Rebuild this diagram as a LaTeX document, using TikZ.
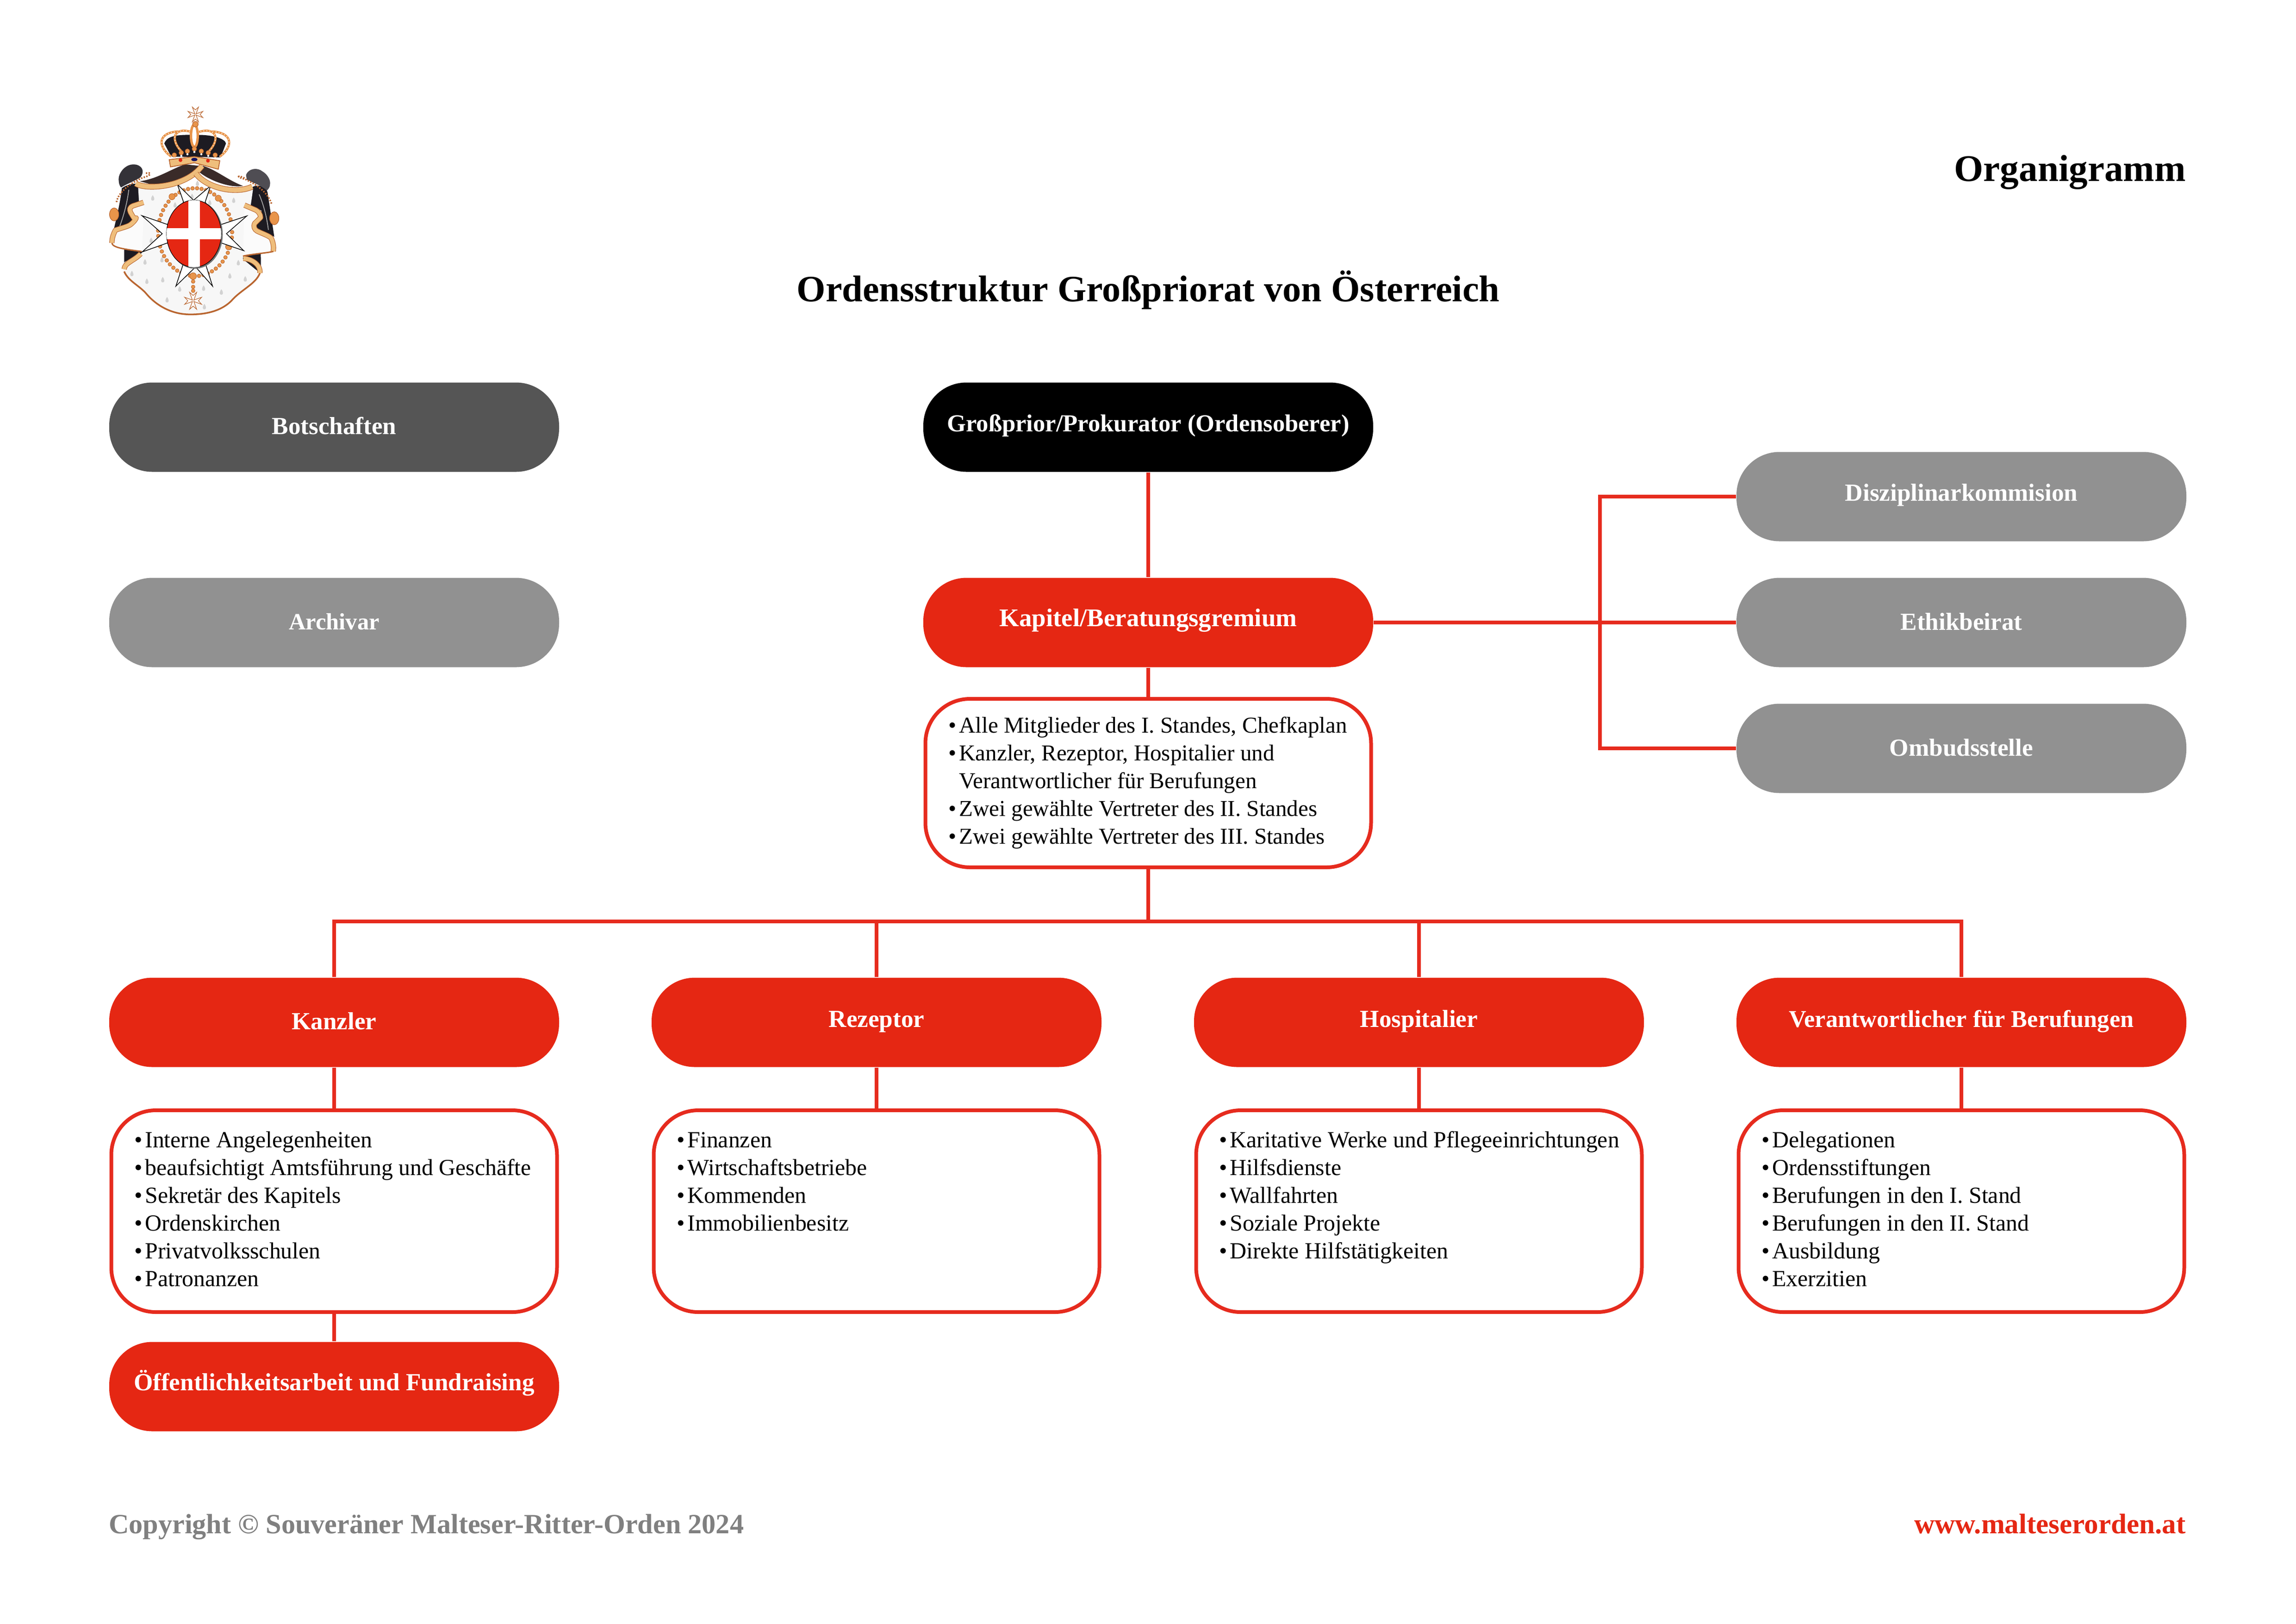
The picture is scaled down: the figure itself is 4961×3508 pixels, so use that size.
\documentclass[tikz,border=0pt]{standalone}
\usepackage{fontspec}
\setmainfont{Liberation Serif}
\newlength\pxl
\setlength\pxl{0.0059867cm}
\definecolor{mred}{HTML}{E52713}
\definecolor{lred}{HTML}{E62B1E}
\definecolor{mgrey}{HTML}{919191}
\definecolor{dgrey}{HTML}{555555}
\definecolor{ftgrey}{HTML}{808080}
\definecolor{gold}{HTML}{EFBE7C}
\definecolor{golddk}{HTML}{B9652F}
\definecolor{bead}{HTML}{E8944A}
\definecolor{velvet}{HTML}{1D1B22}
\definecolor{brownv}{HTML}{3A2B29}
\newcommand\itm[1]{\mbox{\makebox[23\pxl][l]{•}#1}\par}
\newcommand\itc[1]{\mbox{\hspace{23\pxl}#1}\par}
\newcommand\lst[3]{\parbox[c][#1\pxl][t]{863\pxl}{\rule{0pt}{#2\pxl}#3}}
\newcommand\mcross[3]{\draw[golddk,line width=0.2pt,fill=white,shift={(#1,#2)},scale=#3]
  (-20,-48)--(0,-30)--(20,-48)--(4,-4)--(48,-20)--(30,0)--(48,20)--(4,4)--(20,48)--(0,30)--(-20,48)--(-4,4)--(-48,20)--(-30,0)--(-48,-20)--(-4,-4)--cycle;}
\newcommand\crownarch[4]{\draw[bead,line width=0.8pt] #1 .. controls #2 and #3 .. #4; \draw[pearl] #1 .. controls #2 and #3 .. #4;}
\tikzset{
  x=\pxl,y=-\pxl,
  pill/.style={rectangle,rounded corners=93\pxl,minimum width=972\pxl,minimum height=193\pxl,inner sep=0pt,
    text=white,align=center,font=\fontsize{9.05}{11}\selectfont\bfseries,text depth=20\pxl},
  o8/.style={text height=36\pxl},
  o9/.style={text height=38\pxl},
  o10/.style={text height=40\pxl},
  o15/.style={text height=50\pxl},
  o16/.style={text height=52\pxl},
  redpill/.style={pill,fill=mred},
  greypill/.style={pill,fill=mgrey},
  listbox/.style={rectangle,draw=lred,fill=white,line width=8\pxl,rounded corners=96\pxl,inner ysep=0pt,inner xsep=50\pxl,
    font=\fontsize{8.48}{10.22}\selectfont,text=black,align=left},
  link/.style={draw=lred,line width=8\pxl},
  heading/.style={inner sep=0pt,font=\fontsize{13.65}{16}\selectfont\bfseries,text=black},
  foot/.style={inner sep=0pt,font=\fontsize{10.3}{12}\selectfont\bfseries},
  trim/.style={draw=golddk,double=gold,line width=0.2pt,double distance=#1,rounded corners=2pt,line join=round},
  pearl/.style={white,line width=0.4pt,line cap=round,dash pattern=on 0pt off 1.1pt}
}
\begin{document}
\begin{tikzpicture}
\useasboundingbox (0,0) rectangle (4961,3508);
\fill[white] (0,0) rectangle (4961,3508);
% crest
\begin{scope}[shift={(200,210)},x=0.33333\pxl,y=-0.33333\pxl]
  % drapes
  \fill[velvet] (190,590) .. controls (230,560) and (280,560) .. (300,560) -- (335,690) -- (230,720) .. controls (260,790) and (270,790) .. (272,805) -- (135,870) .. controls (160,760) and (180,680) .. (190,590) -- cycle;
  \fill[velvet] (205,1085) -- (205,960) -- (325,985) -- (318,1030) -- cycle;
  \fill[velvet] (1040,580) .. controls (1090,560) and (1130,590) .. (1135,620) -- (1178,905) -- (1040,835) .. controls (1090,780) and (1095,760) .. (1095,735) -- (985,680) -- cycle;
  \fill[velvet] (975,1030) -- (1090,985) -- (1092,1140) -- (970,1060) -- cycle;
  \draw[gray!70,line width=0.3pt] (235,600) .. controls (225,680) and (205,760) .. (175,840);
  \draw[gray!70,line width=0.3pt] (1080,630) .. controls (1110,700) and (1130,780) .. (1140,860);
  % puffs
  \fill[velvet!90!white] (170,520) .. controls (180,470) and (230,425) .. (285,438) .. controls (330,450) and (335,490) .. (310,520) .. controls (270,545) and (225,560) .. (185,585) .. controls (170,570) and (168,540) .. (170,520) -- cycle;
  \fill[velvet!78!white] (995,505) .. controls (1010,460) and (1070,455) .. (1100,480) .. controls (1150,510) and (1170,570) .. (1130,605) .. controls (1090,570) and (1040,555) .. (1000,535) -- cycle;
  % mantle
  \fill[gray!6] (295,575) -- (1040,600) -- (975,1050) -- (1085,1140) .. controls (1060,1210) and (960,1250) .. (900,1320) .. controls (820,1400) and (700,1410) .. (620,1408) .. controls (520,1405) and (420,1360) .. (345,1270) .. controls (300,1220) and (230,1190) .. (205,1130) -- (205,1070) -- (320,1010) -- cycle;
  \draw[golddk,line width=0.6pt] (1085,1140) .. controls (1060,1210) and (960,1250) .. (900,1320) .. controls (820,1400) and (700,1410) .. (620,1408) .. controls (520,1405) and (420,1360) .. (345,1270) .. controls (300,1220) and (230,1190) .. (205,1130);
  \foreach \dx/\dy in {390/635,915/650,680/540,645/625,535/680,760/665,315/805,380/910,340/1050,450/1035,945/1055,255/1125,352/1175,455/1165,720/1220,835/1245,890/1140,990/1160,483/1295,725/1340,565/1225}
    {\fill[gray!35] (\dx,\dy) .. controls (\dx-14,\dy+20) and (\dx-14,\dy+34) .. (\dx,\dy+36) .. controls (\dx+14,\dy+34) and (\dx+14,\dy+20) .. (\dx,\dy) -- cycle;}
  % flaps
  \fill[gray!3] (335,690) -- (225,720) .. controls (270,790) and (275,800) .. (270,815) -- (130,885) .. controls (110,930) and (125,965) .. (200,985) -- (320,1000) -- cycle;
  \draw[trim=1.5pt] (330,682) -- (228,715) .. controls (265,780) and (275,800) .. (268,815) .. controls (220,840) and (150,860) .. (130,890) -- (125,945);
  \fill[gray!3] (985,695) -- (1095,745) .. controls (1090,780) and (1050,820) .. (1035,845) -- (1175,930) .. controls (1190,990) and (1170,1010) .. (1100,1010) -- (975,1030) -- cycle;
  \draw[trim=1.5pt] (985,700) -- (1090,745) .. controls (1090,780) and (1050,820) .. (1035,850) .. controls (1090,880) and (1150,900) .. (1175,945) -- (1172,1000);
  \draw[golddk,line width=0.5pt] (125,945) .. controls (130,975) and (200,985) .. (318,1000);
  \draw[golddk,line width=0.5pt] (1172,1000) .. controls (1130,1010) and (1050,1015) .. (975,1030);
  \draw[trim=1.5pt] (205,1115) .. controls (205,1075) and (270,1060) .. (312,1015);
  \draw[trim=1.5pt] (978,1045) .. controls (1040,1050) and (1090,1090) .. (1085,1140);
  % beads
  \foreach \a in {0,7,...,353}
    {\fill[bead,draw=golddk,line width=0.15pt] ({665+240*cos(\a)},{875+285*sin(\a)}) circle [radius=12];}
  \foreach \bx/\by/\br in {515/645/20,815/655/20,435/945/20,882/970/20,652/1160/22,652/1195/12,652/1230/12,652/1255/12}
    {\fill[bead,draw=golddk,line width=0.15pt] (\bx,\by) circle [radius=\br];}
  % star
  \draw[black,fill=white,line width=0.25pt] (550,565)--(655,668)--(765,575)--(730,680)--(835,825)--(1000,770)--(868,885)--(980,995)--(835,945)--(735,1090)--(778,1225)--(668,1100)--(540,1225)--(585,1090)--(485,945)--(322,1003)--(452,885)--(320,768)--(485,825)--(590,680)--cycle;
  \fill[black!55] (664,890) ellipse [x radius=180,y radius=222];
  \fill[mred,draw=black,line width=0.2pt] (657,885) ellipse [x radius=177,y radius=218];
  \begin{scope}
    \clip (657,885) ellipse [x radius=177,y radius=218];
    \fill[white] (622,650) rectangle (695,1110);
    \fill[white] (470,850) rectangle (850,922);
  \end{scope}
  % canopy
  \fill[brownv] (305,545) .. controls (420,530) and (500,470) .. (600,435) -- (690,445) .. controls (640,510) and (500,560) .. (400,570) -- cycle;
  \fill[brownv] (715,445) .. controls (800,470) and (880,540) .. (975,575) .. controls (900,590) and (760,545) .. (685,480) -- cycle;
  \draw[trim=1.7pt] (280,560) .. controls (340,600) and (600,590) .. (710,445);
  \draw[trim=1.7pt] (670,495) .. controls (740,590) and (930,630) .. (1035,580);
  % ropes and tassels
  \draw[golddk,line width=0.6pt,dash pattern=on 0.5pt off 0.5pt] (155,680) .. controls (170,600) and (280,540) .. (330,520) .. controls (380,510) and (390,480) .. (340,495);
  \draw[golddk,line width=0.6pt,dash pattern=on 0.5pt off 0.5pt] (1160,690) .. controls (1130,600) and (1030,550) .. (985,530) .. controls (930,520) and (940,500) .. (985,525);
  \fill[bead,draw=golddk,line width=0.2pt] (140,760) ellipse [x radius=30,y radius=42];
  \fill[bead,draw=golddk,line width=0.2pt] (1178,785) ellipse [x radius=30,y radius=42];
  % crown
  \fill[velvet] (465,300) .. controls (480,260) and (520,240) .. (660,245) .. controls (780,240) and (860,270) .. (865,300) -- (830,390) -- (510,385) -- cycle;
  \crownarch{(510,385)}{(420,320)}{(420,230)}{(555,222)}
  \crownarch{(825,385)}{(915,320)}{(910,230)}{(775,222)}
  \crownarch{(585,360)}{(500,280)}{(520,190)}{(640,225)}
  \crownarch{(745,360)}{(830,280)}{(810,190)}{(690,225)}
  \draw[bead,fill=white,line width=0.9pt] (660,250) ellipse [x radius=22,y radius=72];
  \fill[bead,draw=golddk,line width=0.2pt] (667,175) circle [radius=18];
  \foreach \cx/\cy in {530/375,575/360,615/350,660/335,705/350,750/360,795/375}
    {\fill[bead,draw=golddk,line width=0.15pt] (\cx,\cy) circle [radius=15];
     \fill[white] (\cx,\cy+20) circle [radius=7];}
  \fill[gold,draw=golddk,line width=0.3pt] (497,405) -- (660,385) -- (825,412) -- (815,467) -- (660,425) -- (505,452) -- cycle;
  \fill[mred] (570,408) circle [radius=12];
  \fill[mred] (748,412) circle [radius=12];
  \fill[velvet!70!blue] (660,404) ellipse [x radius=20,y radius=11];
  \mcross{667}{112}{1}
  \mcross{652}{1320}{1.15}
\end{scope}
% titles
\node[heading,anchor=base east,font=\fontsize{13.8}{16}\selectfont\bfseries] (orga) at (4724,391) {Organigramm};
\node[heading,anchor=base] (title) at (2481,651) {Ordensstruktur Großpriorat von Österreich};
% pills
\node[pill,o15,fill=dgrey] (botschaften) at (722,923) {Botschaften};
\node[pill,o9,fill=black,font=\fontsize{8.95}{11}\selectfont\bfseries] (prior) at (2481,923) {Großprior/Prokurator (Ordensoberer)};
\node[greypill,o15,font=\fontsize{8.6}{11}\selectfont\bfseries] (archivar) at (722,1345) {Archivar};
\node[redpill,o8,font=\fontsize{9.35}{11}\selectfont\bfseries] (kapitel) at (2481,1345) {Kapitel/Beratungsgremium};
\node[greypill,o9] (diszip) at (4238,1073) {Disziplinarkommision};
\node[greypill,o16] (ethik) at (4238,1345) {Ethikbeirat};
\node[greypill,o16] (ombud) at (4238,1617) {Ombudsstelle};
\node[listbox,font=\fontsize{8.35}{10.22}\selectfont] (kapliste) at (2481,1692) {\lst{364}{73}{\itm{Alle Mitglieder des I. Standes, Chefkaplan}\itm{Kanzler, Rezeptor, Hospitalier und}\itc{Verantwortlicher für Berufungen}\itm{Zwei gewählte Vertreter des II. Standes}\itm{Zwei gewählte Vertreter des III. Standes}}};
\node[redpill,o15] (kanzler) at (722,2209) {Kanzler};
\node[redpill,o10] (rezeptor) at (1894,2209) {Rezeptor};
\node[redpill,o10] (hospital) at (3066,2209) {Hospitalier};
\node[redpill,o10,font=\fontsize{8.9}{11}\selectfont\bfseries] (beruf) at (4238,2209) {Verantwortlicher für Berufungen};
\node[listbox] (kanzliste) at (722,2617) {\lst{436}{80}{\itm{Interne Angelegenheiten}\itm{beaufsichtigt Amtsführung und Geschäfte}\itm{Sekretär des Kapitels}\itm{Ordenskirchen}\itm{Privatvolksschulen}\itm{Patronanzen}}};
\node[listbox] (rezliste) at (1894,2617) {\lst{436}{80}{\itm{Finanzen}\itm{Wirtschaftsbetriebe}\itm{Kommenden}\itm{Immobilienbesitz}}};
\node[listbox] (hospliste) at (3066,2617) {\lst{436}{80}{\itm{Karitative Werke und Pflegeeinrichtungen}\itm{Hilfsdienste}\itm{Wallfahrten}\itm{Soziale Projekte}\itm{Direkte Hilfstätigkeiten}}};
\node[listbox] (berliste) at (4238,2617) {\lst{436}{80}{\itm{Delegationen}\itm{Ordensstiftungen}\itm{Berufungen in den I. Stand}\itm{Berufungen in den II. Stand}\itm{Ausbildung}\itm{Exerzitien}}};
\node[redpill,o8] (oeff) at (722,2996) {Öffentlichkeitsarbeit und Fundraising};
% connectors
\coordinate (bus) at (2481,1991);
\coordinate (hub) at (3457,1345);
\draw[link] (prior) -- (kapitel);
\draw[link] (kapitel) -- (kapliste);
\draw[link] (kapliste) -- (bus);
\draw[link] (kapitel) -- (ethik);
\draw[link] (diszip.west) -| (hub) |- (ombud.west);
\draw[link] (kanzler.north) |- (bus);
\draw[link] (rezeptor.north) |- (bus);
\draw[link] (hospital.north) |- (bus);
\draw[link] (beruf.north) |- (bus);
\draw[link] (kanzler) -- (kanzliste);
\draw[link] (rezeptor) -- (rezliste);
\draw[link] (hospital) -- (hospliste);
\draw[link] (beruf) -- (berliste);
\draw[link] (kanzliste) -- (oeff);
% footer
\node[foot,anchor=base west,font=\fontsize{10.25}{12}\selectfont\bfseries,text=ftgrey] (copy) at (234,3313) {Copyright © Souveräner Malteser-Ritter-Orden 2024};
\node[foot,anchor=base east,font=\fontsize{10.4}{12}\selectfont\bfseries,text=mred] (web) at (4724,3313) {www.malteserorden.at};
\end{tikzpicture}
\end{document}
